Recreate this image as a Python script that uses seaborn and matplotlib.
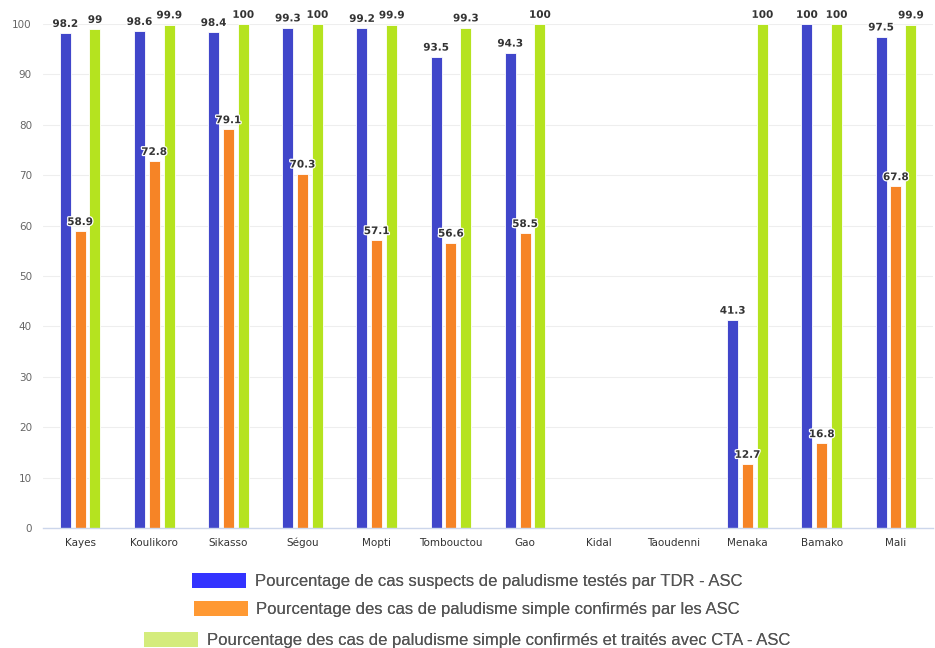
import numpy as np
import pandas as pd
import matplotlib
matplotlib.use("Agg")
import matplotlib.pyplot as plt
import matplotlib.patheffects as pe
from matplotlib.patches import Patch
import seaborn as sns

regions = ["Kayes", "Koulikoro", "Sikasso", "Ségou", "Mopti", "Tombouctou", "Gao",
           "Kidal", "Taoudenni", "Menaka", "Bamako", "Mali"]
tested_tdr = [98.2, 98.6, 98.4, 99.3, 99.2, 93.5, 94.3, np.nan, np.nan, 41.3, 100, 97.5]
confirmed_asc = [58.9, 72.8, 79.1, 70.3, 57.1, 56.6, 58.5, np.nan, np.nan, 12.7, 16.8, 67.8]
treated_cta = [99, 99.9, 100, 100, 99.9, 99.3, 100, np.nan, np.nan, 100, 100, 99.9]

series_names = [
    "Pourcentage de cas suspects de paludisme testés par TDR - ASC",
    "Pourcentage des cas de paludisme simple confirmés par les ASC",
    "Pourcentage des cas de paludisme simple confirmés et traités avec CTA - ASC",
]
bar_colors = ["#4046CA", "#F68426", "#B5E31F"]
legend_colors = ["#3333FF", "#FF9933", "#D4EC7C"]

frames = []
for name, vals in zip(series_names, [tested_tdr, confirmed_asc, treated_cta]):
    frames.append(pd.DataFrame({"region": regions, "value": vals, "serie": name}))
df = pd.concat(frames, ignore_index=True)

sns.set_theme(style="white")
plt.rcParams["font.family"] = ["DejaVu Sans"]

fig = plt.figure(figsize=(9.35, 6.48), dpi=100)
ax = fig.add_axes([43 / 935, 1 - 528 / 648, 890 / 935, 504 / 648])

sns.barplot(data=df, x="region", y="value", hue="serie", order=regions,
            hue_order=series_names, palette=bar_colors, width=0.6, gap=0.25,
            errorbar=None, edgecolor="white", linewidth=0.6, saturation=1,
            legend=False, ax=ax)

ax.set_ylim(0, 100)
ax.set_xlim(-0.5, len(regions) - 0.5)
ax.set_yticks(range(0, 101, 10))
ax.yaxis.grid(True, color="#eeeeee", linewidth=0.8)
ax.set_axisbelow(True)
ax.set_xlabel("")
ax.set_ylabel("")
for s in ["top", "right", "left"]:
    ax.spines[s].set_visible(False)
ax.spines["bottom"].set_color("#ccd6eb")
ax.spines["bottom"].set_linewidth(1)
ax.tick_params(axis="y", length=0, pad=8, labelsize=7.5, labelcolor="#666666")
ax.tick_params(axis="x", length=0, pad=13, labelsize=7.5, labelcolor="#333333")
for lbl in ax.get_xticklabels():
    lbl.set_verticalalignment("baseline")

# value labels above each bar, taken from the bar heights
for container in ax.containers:
    for bar in container:
        if bar is None:
            continue
        h = bar.get_height()
        if np.isnan(h):
            continue
        ax.annotate(f"{h:g}", (bar.get_x() + bar.get_width() / 2, h),
                    xytext=(0, 3), textcoords="offset points", ha="center", va="bottom",
                    fontsize=7.5, fontweight="bold", color="#333333", annotation_clip=False,
                    path_effects=[pe.withStroke(linewidth=1.8, foreground="white")])

# legend rows, each centred below the plot
row_y = [581, 609, 640]
for name, col, y in zip(series_names, legend_colors, row_y):
    leg = fig.legend(handles=[Patch(facecolor=col, edgecolor="none")], labels=[name],
                     loc="center", bbox_to_anchor=(467 / 935, 1 - y / 648),
                     frameon=False, handlelength=3.25, handleheight=1.0,
                     handletextpad=0.5, borderpad=0,
                     prop={"family": "Liberation Sans", "size": 12})
    for t in leg.get_texts():
        t.set_color("#555555")
    fig.add_artist(leg)

fig.savefig("out.png", dpi=100, facecolor="white")
